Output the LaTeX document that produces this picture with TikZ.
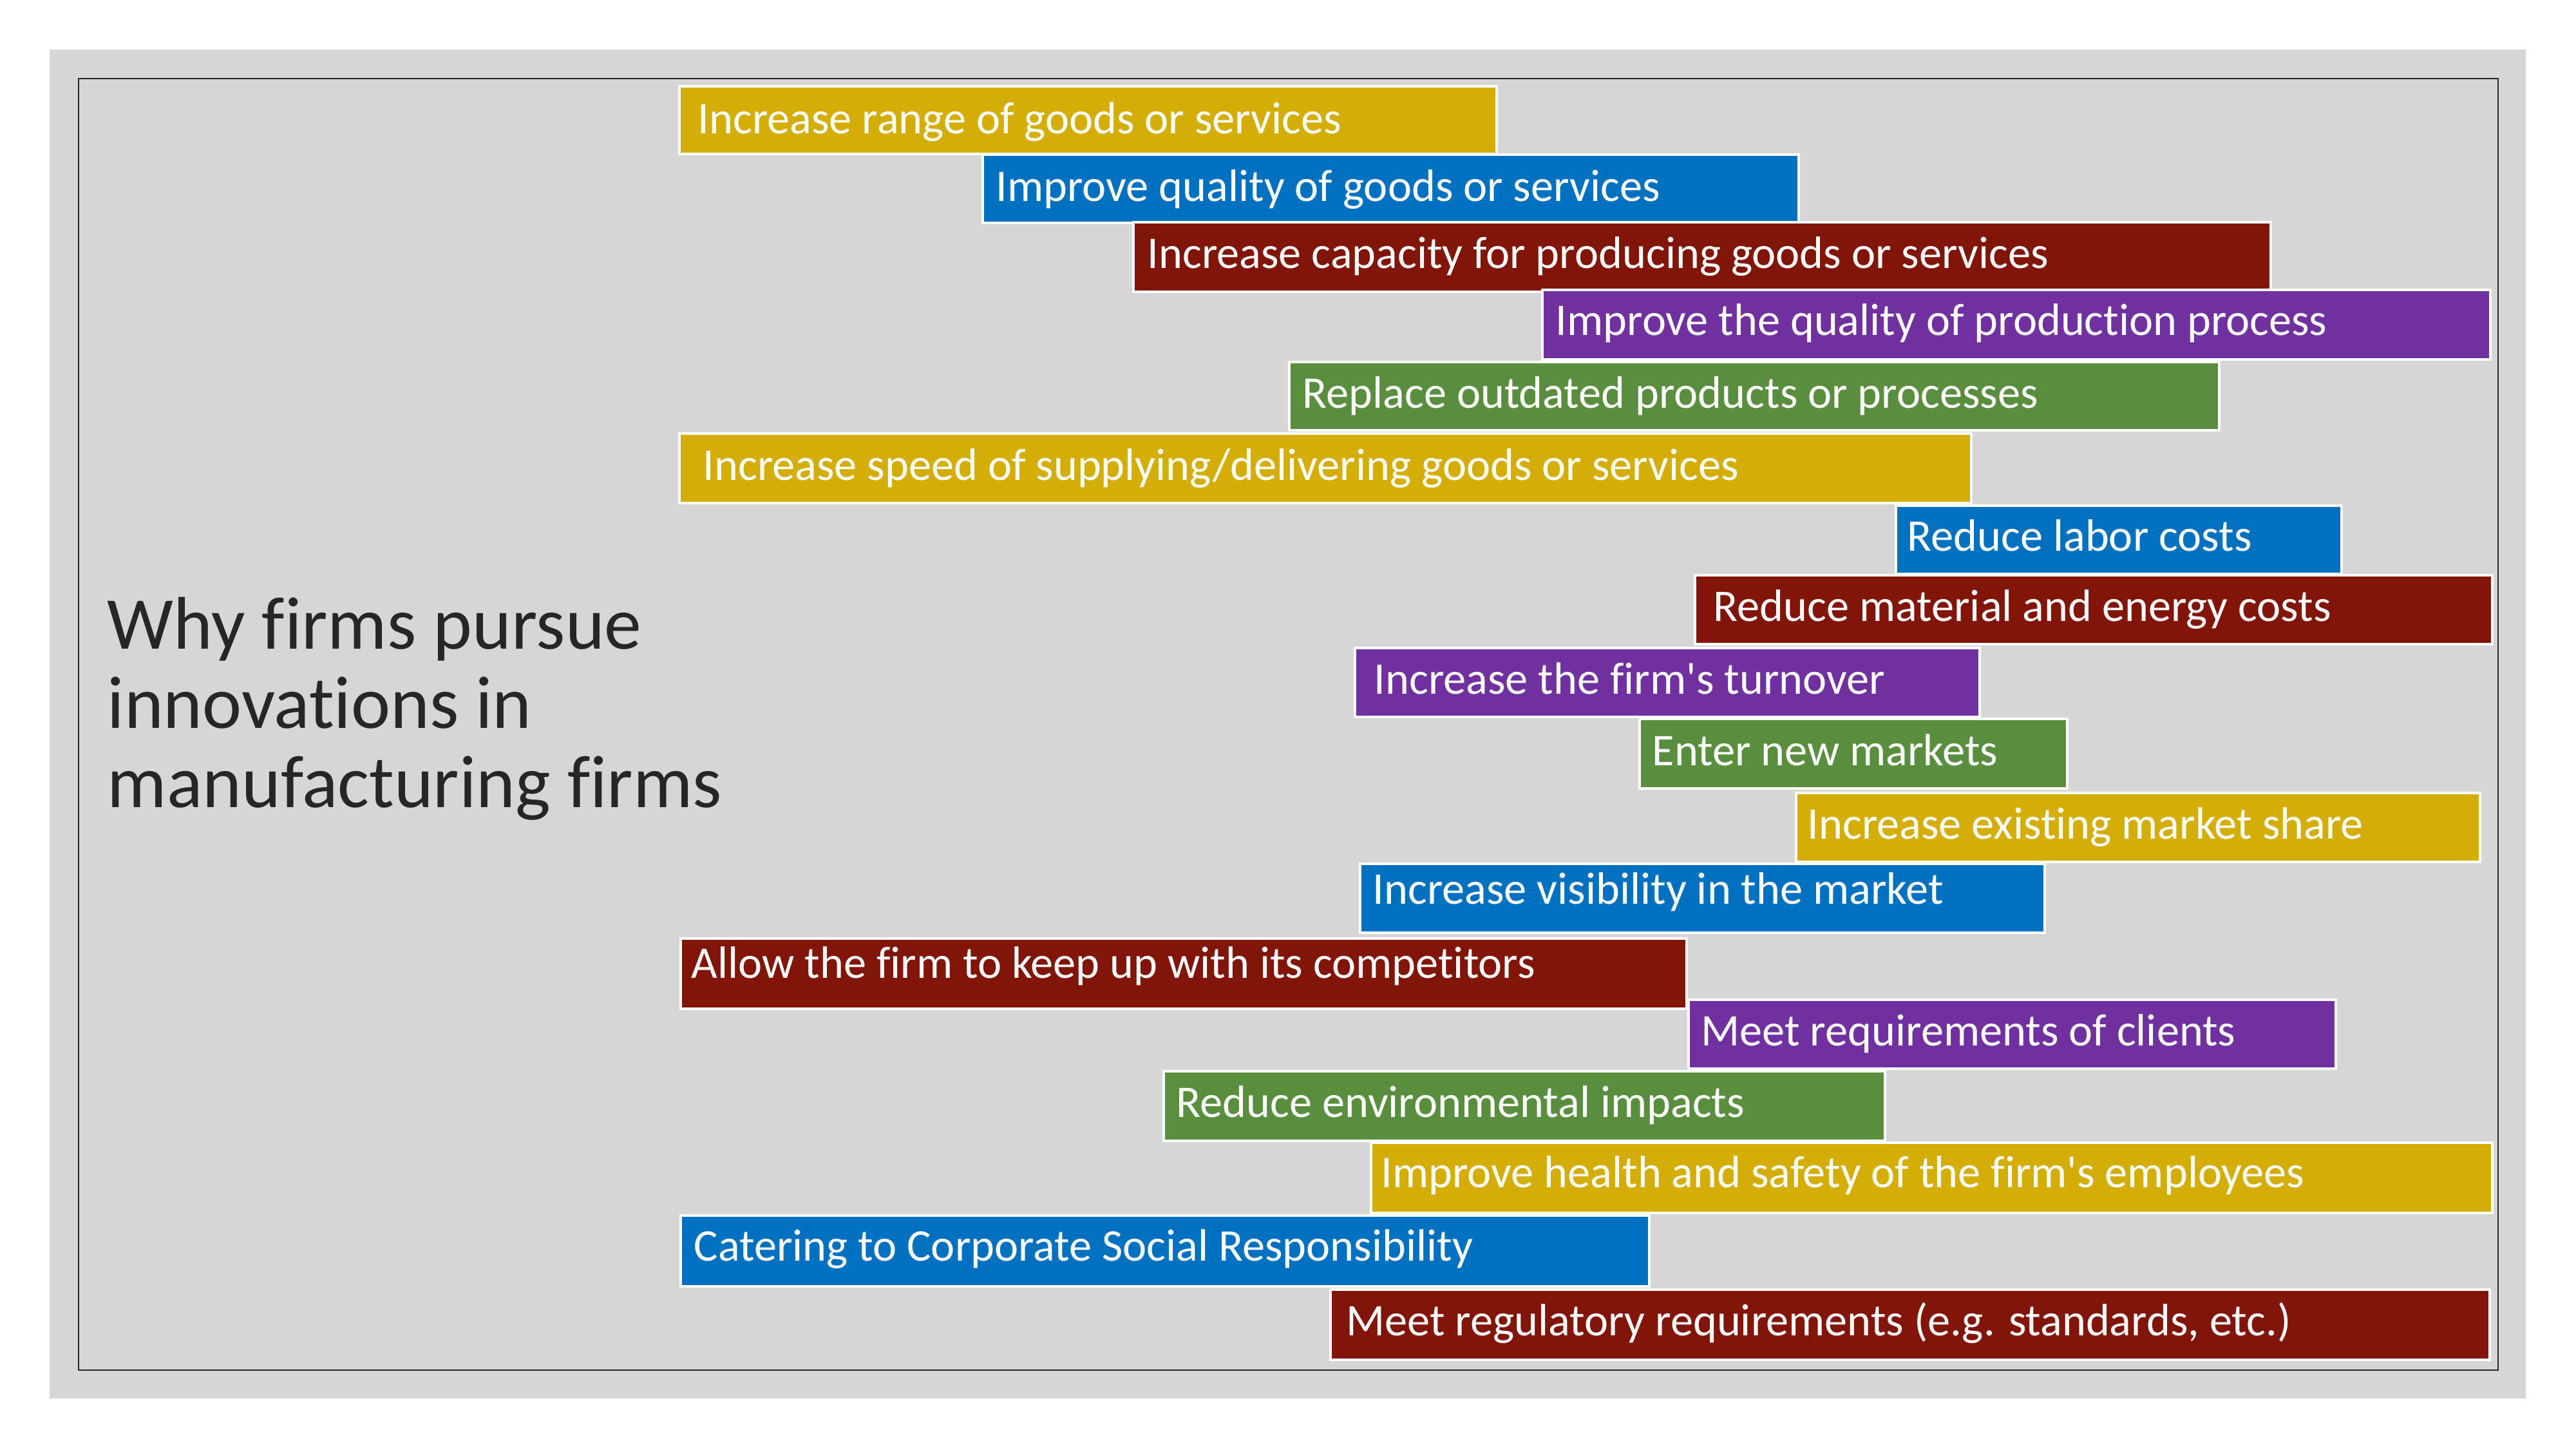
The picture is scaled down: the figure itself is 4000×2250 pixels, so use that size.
\documentclass[tikz,border=0pt]{standalone}
\usepackage{fontspec}
\setmainfont{Carlito}[Ligatures=NoCommon]
\usetikzlibrary{fit}
\definecolor{cgold}{HTML}{D4AE06}
\definecolor{cblue}{HTML}{0070C0}
\definecolor{cred}{HTML}{82150A}
\definecolor{cpurple}{HTML}{7030A0}
\definecolor{cgreen}{HTML}{588E3E}
\definecolor{cbg}{HTML}{D6D6D6}
\definecolor{ctitle}{HTML}{262626}
\tikzset{
  barbox/.style={rectangle, draw=white, line width=0.9pt, inner sep=0pt},
  bartext/.style={anchor=base west, inner sep=0pt, text=white, font=\fontsize{20}{24}\selectfont},
  titletext/.style={anchor=base west, inner sep=0pt, align=left, text=ctitle, font=\fontsize{32.9}{34.85}\selectfont},
}
\newcommand\mkbar[9]{%
  \node[barbox, fill=#2, fit={(#3,#4) (#5,#6)}] (#1) {};
  \node[bartext] (#1t) at (#7,#8) {#9};
}
\begin{document}
\begin{tikzpicture}[x=0.01cm, y=-0.01cm]
\useasboundingbox (0,0) rectangle (4000,2250);
\fill[white] (0,0) rectangle (4000,2250);
\node[rectangle, fill=cbg, inner sep=0pt, fit={(77,77) (3922,2171)}] (bg) {};
\node[rectangle, draw=ctitle, line width=0.8pt, inner sep=0pt, fit={(122,122) (3879,2127)}] (frame) {};
\node[titletext] (title) at (166,1253) {Why firms pursue\\innovations in\\manufacturing firms};
\mkbar{b1}{cgold}{1055}{134}{2324}{239}{1083}{207}{Increase range of goods or services}
\mkbar{b2}{cblue}{1526}{240}{2793}{346}{1546}{312}{Improve quality of goods or services}
\mkbar{b3}{cred}{1760}{345}{3526}{453}{1781}{416}{Increase capacity for producing goods or services}
\mkbar{b4}{cpurple}{2395}{450}{3867}{558}{2415}{520}{Improve the quality of production process}
\mkbar{b5}{cgreen}{2002}{562}{3446}{668}{2022}{633}{Replace outdated products or processes}
\mkbar{b6}{cgold}{1055}{673}{3061}{781}{1091}{745}{Increase speed of supplying/delivering goods or services}
\mkbar{b7}{cblue}{2944}{785}{3636}{891}{2961}{855}{Reduce labor costs}
\mkbar{b8}{cred}{2632}{893}{3870}{1000}{2660}{964}{Reduce material and energy costs}
\mkbar{b9}{cpurple}{2104}{1006}{3074}{1113}{2133}{1077}{Increase the firm\textquotesingle s turnover}
\mkbar{b10}{cgreen}{2546}{1116}{3210}{1224}{2565}{1188}{Enter new markets}
\mkbar{b11}{cgold}{2789}{1231}{3851}{1338}{2806}{1302}{Increase existing market share}
\mkbar{b12}{cblue}{2112}{1341}{3175}{1448}{2131}{1403}{Increase visibility in the market}
\mkbar{b13}{cred}{1057}{1457}{2619}{1566}{1073}{1518}{Allow the firm to keep up with its competitors}
\mkbar{b14}{cpurple}{2622}{1552}{3627}{1659}{2641}{1623}{Meet requirements of clients}
\mkbar{b15}{cgreen}{1807}{1663}{2927}{1771}{1826}{1734}{Reduce environmental impacts}
\mkbar{b16}{cgold}{2129}{1774}{3870}{1883}{2144}{1843}{Improve health and safety of the firm\textquotesingle s employees}
\mkbar{b17}{cblue}{1057}{1887}{2561}{1997}{1077}{1957}{Catering to Corporate Social Responsibility}
\mkbar{b18}{cred}{2066}{2002}{3866}{2111}{2090}{2073}{Meet regulatory requirements (e.g. standards, etc.)}
\end{tikzpicture}
\end{document}
